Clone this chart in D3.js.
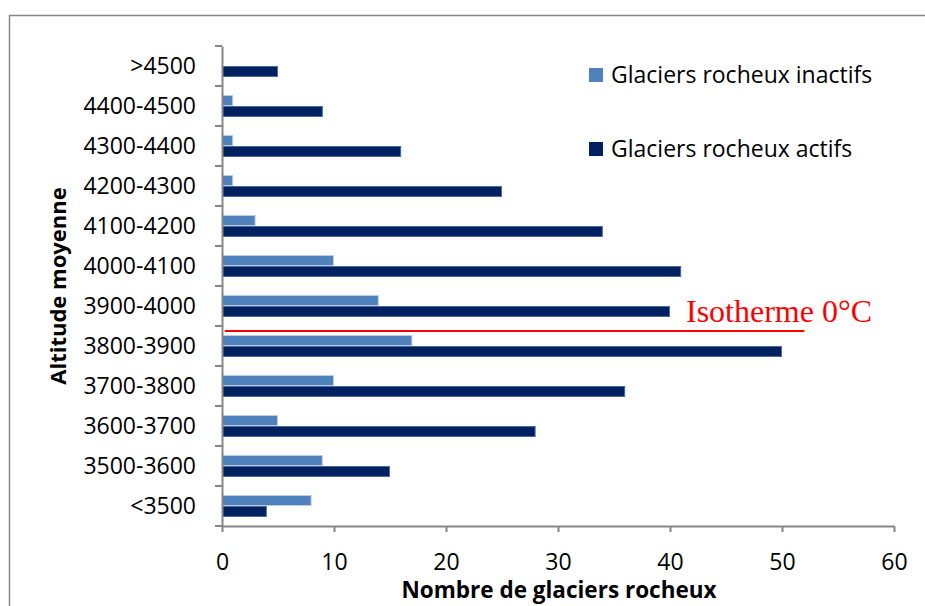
<!DOCTYPE html>
<html>
<head>
<meta charset="utf-8">
<script src="https://cdn.jsdelivr.net/npm/d3@7"></script>
<style>
	body { margin: 0; background: #fff; }
	svg text { font-family: "Open Sans", "Noto Sans", sans-serif; fill: #000; }
</style>
</head>
<body>
<div id="chart"></div>
<script>
// altitude classes, from bottom to top of the chart
const categories = ["<3500", "3500-3600", "3600-3700", "3700-3800", "3800-3900", "3900-4000",
	"4000-4100", "4100-4200", "4200-4300", "4300-4400", "4400-4500", ">4500"];
const inactifs = [8, 9, 5, 10, 17, 14, 10, 3, 1, 1, 1, 0];
const actifs = [4, 15, 28, 36, 50, 40, 41, 34, 25, 16, 9, 5];
const seriesNames = ["Glaciers rocheux inactifs", "Glaciers rocheux actifs"];
const xTicks = [0, 10, 20, 30, 40, 50, 60];
const isoLabel = "Isotherme 0°C";
const isoCategory = "3800-3900";
const isoExtent = [0.25, 52];

const W = 925, H = 606,
	LEFT = 222, RIGHT = 894, TOP = 46, BOTTOM = 526,
	GRAY = "#868686", COLORS = ["#4F81BD", "#002060"], EDGES = ["#B9CDE5", "#4A6A9A"];

var svg = d3.select("#chart").append("svg")
	.attr("width", W)
	.attr("height", H);

// outer frame (right and bottom edges fall outside the picture)
svg.append("rect")
	.attr("x", 9.5).attr("y", 15.5)
	.attr("width", 940).attr("height", 620)
	.attr("fill", "none").attr("stroke", GRAY).attr("stroke-width", 1.5);

var x = d3.scaleLinear().domain([0, 60]).range([LEFT, RIGHT]);
var y = d3.scaleBand().domain(categories.slice().reverse())
	.range([TOP, BOTTOM]).paddingInner(0.45).paddingOuter(0.225);
var sub = d3.scaleBand().domain([0, 1]).range([0, y.bandwidth()]);

var rows = categories.map((c, i) => ({cat: c, vals: [inactifs[i], actifs[i]]}));

// bars
var g = svg.append("g");
rows.forEach(r => {
	r.vals.forEach((v, k) => {
		if (v <= 0) return;
		g.append("rect")
			.attr("x", x(0) + 0.5)
			.attr("y", y(r.cat) + sub(k) + 0.5)
			.attr("width", x(v) - x(0) - 1)
			.attr("height", sub.bandwidth() - 1)
			.attr("fill", COLORS[k])
			.attr("stroke", EDGES[k])
			.attr("stroke-width", 1);
	});
});

// x axis
var xAxis = svg.append("g")
	.attr("transform", "translate(0," + BOTTOM + ")")
	.call(d3.axisBottom(x).tickValues(xTicks).tickSize(6).tickSizeOuter(0));
xAxis.select(".domain").attr("stroke", GRAY).attr("stroke-width", 2);
xAxis.selectAll(".tick line").attr("stroke", GRAY).attr("stroke-width", 2);
xAxis.selectAll(".tick text").attr("y", 44).attr("dy", null)
	.style("font-size", "23px");

// y axis, labels centred on the bands
var yAxis = svg.append("g")
	.attr("transform", "translate(" + LEFT + ",0)")
	.call(d3.axisLeft(y).tickSize(0).tickPadding(26).tickSizeOuter(0));
yAxis.select(".domain").attr("stroke", GRAY).attr("stroke-width", 2);
yAxis.selectAll(".tick text").style("font-size", "23px").attr("dy", "0.36em");

// y ticks sit between the bands
var bounds = d3.range(categories.length + 1).map(i => TOP + i * y.step());
yAxis.selectAll(".bound").data(bounds).enter()
	.append("line")
	.attr("class", "bound")
	.attr("x1", -7).attr("x2", 0)
	.attr("y1", d => d).attr("y2", d => d)
	.attr("stroke", GRAY).attr("stroke-width", 2);

// axis titles
svg.append("text")
	.attr("x", 559)
	.attr("y", 598)
	.attr("text-anchor", "middle")
	.style("font-size", "22.5px").style("font-weight", "bold")
	.text("Nombre de glaciers rocheux");

svg.append("text")
	.attr("transform", "translate(66," + (TOP + BOTTOM) / 2 + ") rotate(-90)")
	.attr("text-anchor", "middle")
	.style("font-size", "22px").style("font-weight", "bold")
	.text("Altitude moyenne");

// legend
var legend = svg.append("g").attr("transform", "translate(589,0)");
seriesNames.forEach((n, k) => {
	legend.append("rect")
		.attr("x", 0).attr("y", 68 + k * 74)
		.attr("width", 14).attr("height", 14)
		.attr("fill", COLORS[k]);
	legend.append("text")
		.attr("x", 22).attr("y", 83 + k * 74)
		.style("font-size", "23px")
		.text(n);
});

// isotherme annotation
var isoY = y(isoCategory) - 0.1 * y.step();
svg.append("line")
	.attr("x1", x(isoExtent[0])).attr("x2", x(isoExtent[1]))
	.attr("y1", isoY).attr("y2", isoY)
	.attr("stroke", "#FF0000").attr("stroke-width", 2);
svg.append("text")
	.attr("x", 686).attr("y", 322)
	.style("font-family", "'Liberation Serif', 'DejaVu Serif', serif")
	.style("font-size", "32px")
	.style("fill", "#FF0000")
	.text(isoLabel);
</script>
</body>
</html>
